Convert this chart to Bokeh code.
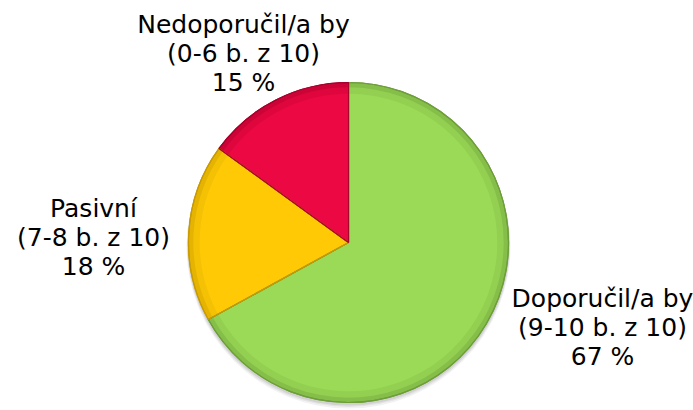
import math
from bokeh.plotting import figure
from bokeh.models import Range1d, ColumnDataSource
from bokeh.core.properties import value
from bokeh.embed import file_html
from bokeh.resources import INLINE

categories = ["Doporučil/a by", "Pasivní", "Nedoporučil/a by"]
ranges = ["(9-10 b. z 10)", "(7-8 b. z 10)", "(0-6 b. z 10)"]
values = [67, 18, 15]
colors = ["#9BDA57", "#FFCA05", "#EC0842"]
edge_colors = ["#6E9E3A", "#C99A00", "#A8002C"]

W, H = 693, 410
cx, cy, R = 348, H - 242, 160
# label anchor positions (layout)
label_x = [602, 93, 243]
label_y = [H - 327, H - 237, H - 53]

p = figure(width=W, height=H, output_backend="svg", toolbar_location=None,
           x_range=Range1d(0, W), y_range=Range1d(0, H), min_border=0)
p.axis.visible = False
p.grid.visible = False
p.outline_line_color = None
p.background_fill_color = "white"
p.border_fill_color = "white"

total = sum(values)
starts, ends = [], []
a = math.pi / 2
for v in values:
    starts.append(a)
    a = a - v / total * 2 * math.pi
    ends.append(a)

src = ColumnDataSource(dict(start=starts, end=ends, color=colors, edge=edge_colors))

# soft shadow
for k, al in [(4, 0.05), (3, 0.06), (2, 0.08)]:
    p.circle(x=[cx], y=[cy - k], radius=R + k * 0.5, fill_color="black", fill_alpha=al, line_color=None)

p.wedge(x=cx, y=cy, radius=R, start_angle="start", end_angle="end", direction="clock",
        fill_color="color", line_color="edge", line_width=1.2, source=src)
# bevel rim shading
p.annular_wedge(x=cx, y=cy, inner_radius=R * 0.93, outer_radius=R, start_angle="start", end_angle="end",
                direction="clock", fill_color="edge", fill_alpha=0.18, line_color=None, source=src)
p.annular_wedge(x=cx, y=cy, inner_radius=R * 0.97, outer_radius=R, start_angle="start", end_angle="end",
                direction="clock", fill_color="edge", fill_alpha=0.35, line_color=None, source=src)
# edges
p.wedge(x=cx, y=cy, radius=R, start_angle="start", end_angle="end", direction="clock",
        fill_color=None, line_color="edge", line_width=1.2, source=src)

labels = [f"{c}\n{r}\n{v} %" for c, r, v in zip(categories, ranges, values)]
p.text(x=label_x, y=label_y, text=labels, text_align="center", text_baseline="middle",
       text_font=value("DejaVu Sans"), text_font_size="25px", text_color="#000000",
       text_line_height=1.0)

open("out.html", "w").write(file_html(p, INLINE))
